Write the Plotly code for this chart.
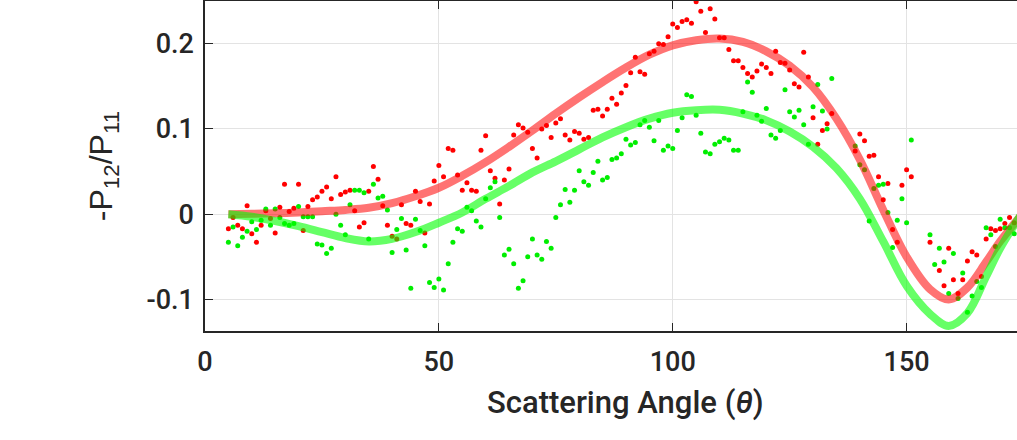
import plotly.graph_objects as go

# Measured polarization ratio -P12/P11 versus scattering angle (two samples)
red_angle = list(range(5, 135)) + list(range(139, 152)) + [155] + list(range(157, 174))
red_value = [
    -0.017, -0.004, -0.013, -0.017, 0.010, -0.023, -0.033, -0.013, 0.004, -0.005,
    -0.022, 0.008, 0.035, 0.003, 0.007, 0.035, -0.019, 0.009, 0.017, 0.020,
    0.027, 0.032, 0.018, 0.044, 0.023, 0.026, 0.028, 0.004, -0.015, -0.010,
    0.027, 0.056, 0.041, 0.010, -0.013, -0.026, -0.029, 0.011, -0.011, -0.013,
    0.027, 0.015, -0.022, 0.012, 0.039, 0.057, 0.044, 0.077, 0.075, 0.046,
    0.028, 0.037, 0.028, 0.027, 0.075, 0.092, 0.051, 0.042, 0.012, 0.040,
    0.053, 0.093, 0.105, 0.101, 0.096, 0.077, 0.066, 0.100, 0.104, 0.090,
    0.107, 0.112, 0.093, 0.087, 0.097, 0.095, 0.088, 0.090, 0.122, 0.123,
    0.115, 0.123, 0.136, 0.129, 0.142, 0.151, 0.166, 0.184, 0.167, 0.164,
    0.188, 0.191, 0.200, 0.199, 0.208, 0.223, 0.219, 0.226, 0.228, 0.224,
    0.249, 0.238, 0.213, 0.241, 0.229, 0.207, 0.207, 0.193, 0.180, 0.180,
    0.172, 0.165, 0.161, 0.168, 0.176, 0.172, 0.165, 0.191, 0.178, 0.177,
    0.169, 0.153, 0.149, 0.190, 0.161, 0.113, 0.082, 0.098, 0.106, 0.118,
    0.074, 0.094, 0.086, 0.068, 0.069, 0.044, 0.017, 0.036, -0.018, -0.033,
    0.034, 0.052, 0.044,
    -0.033,
    -0.066, -0.084, -0.040, -0.077, -0.093, -0.077, -0.055, -0.044, -0.048, -0.073,
    -0.029, -0.017, -0.019, -0.017, -0.011, -0.004, -0.010,
]

green_angle = list(range(5, 135)) + list(range(139, 152)) + list(range(155, 174))
green_value = [
    -0.033, -0.015, -0.037, -0.027, -0.020, -0.009, -0.018, -0.007, 0.006, -0.013,
    0.006, -0.004, -0.011, -0.013, -0.011, 0.009, -0.003, -0.003, -0.003, -0.035,
    -0.036, -0.046, -0.040, 0.000, -0.013, -0.024, 0.011, 0.028, 0.028, 0.025,
    -0.029, 0.035, 0.019, 0.021, 0.005, -0.045, -0.018, -0.005, -0.042, -0.087,
    -0.006, -0.019, -0.037, -0.080, -0.086, -0.076, -0.089, -0.058, -0.033, -0.017,
    -0.020, 0.008, 0.004, -0.008, -0.015, 0.018, 0.031, 0.038, -0.004, -0.048,
    -0.041, -0.058, -0.087, -0.078, -0.050, -0.029, -0.048, -0.053, -0.032, -0.040,
    -0.004, 0.011, 0.029, 0.014, 0.028, 0.051, 0.038, 0.034, 0.049, 0.062,
    0.040, 0.043, 0.064, 0.066, 0.071, 0.088, 0.081, 0.084, 0.105, 0.110,
    0.102, 0.086, 0.110, 0.075, 0.080, 0.077, 0.098, 0.113, 0.140, 0.138,
    0.116, 0.095, 0.073, 0.071, 0.082, 0.085, 0.089, 0.087, 0.075, 0.075,
    0.120, 0.155, 0.143, 0.116, 0.109, 0.124, 0.093, 0.089, 0.098, 0.146,
    0.120, 0.114, 0.122, 0.105, 0.082, 0.126, 0.152, 0.121, 0.100, 0.159,
    0.080, 0.058, 0.052, -0.008, 0.030, 0.034, 0.035, 0.002, -0.039, -0.007,
    0.018, -0.010, 0.087,
    -0.024, -0.059, -0.040, -0.056, -0.093, -0.046, -0.099, -0.069, -0.115, -0.096,
    -0.079, -0.086, -0.016, -0.024, -0.038, -0.006, -0.016, -0.016, -0.023,
]

# Smooth model curves
fit_angle = [5, 10, 15, 20, 25, 30, 35, 40, 45, 50, 55, 60, 65, 70, 75, 80, 85, 90,
             95, 100, 105, 110, 115, 120, 125, 130, 135, 140, 145, 150, 155, 159,
             163, 167, 170, 175]
red_fit_value = [0.000, 0.0005, 0.001, 0.002, 0.0035, 0.005, 0.0075, 0.013, 0.021, 0.031,
                 0.045, 0.061, 0.079, 0.098, 0.118, 0.137, 0.155, 0.172, 0.187, 0.198,
                 0.204, 0.206, 0.202, 0.191, 0.174, 0.149, 0.112, 0.064, 0.005, -0.050,
                 -0.088, -0.100, -0.086, -0.056, -0.032, 0.002]
green_fit_value = [0.000, -0.003, -0.008, -0.014, -0.021, -0.028, -0.032, -0.029, -0.021,
                   -0.010, 0.002, 0.018, 0.033, 0.049, 0.062, 0.076, 0.090, 0.102, 0.112,
                   0.119, 0.122, 0.1225, 0.118, 0.110, 0.097, 0.079, 0.054, 0.018, -0.032,
                   -0.084, -0.117, -0.131, -0.116, -0.073, -0.040, 0.004]

x_ticks = [0, 50, 100, 150]
y_ticks = [-0.1, 0, 0.1, 0.2]
y_tick_text = ["-0.1", "0", "0.1", "0.2"]

axis_color = "#262626"
grid_color = "#e3e3e3"
tick_font = dict(family="Roboto", size=27, color=axis_color, weight=500)

fig = go.Figure()

fig.add_trace(go.Scatter(
    x=red_angle, y=red_value, mode="markers",
    marker=dict(color="#ff0000", size=5, line=dict(width=0)),
    showlegend=False,
))
fig.add_trace(go.Scatter(
    x=green_angle, y=green_value, mode="markers",
    marker=dict(color="#00ee00", size=5, line=dict(width=0)),
    showlegend=False,
))
fig.add_trace(go.Scatter(
    x=fit_angle, y=red_fit_value, mode="lines",
    line=dict(color="rgba(255,0,0,0.55)", width=8, shape="spline", smoothing=1.0),
    showlegend=False,
))
fig.add_trace(go.Scatter(
    x=fit_angle, y=green_fit_value, mode="lines",
    line=dict(color="rgba(0,255,0,0.6)", width=8, shape="spline", smoothing=1.0),
    showlegend=False,
))

fig.update_layout(
    width=1017, height=440,
    margin=dict(l=205, r=0, t=1, b=109),
    paper_bgcolor="white", plot_bgcolor="white",
)

# The angle axis continues past the right edge, so its label sits right of the visible centre
fig.add_annotation(
    text="Scattering Angle (<i>θ</i>)",
    xref="paper", yref="paper", x=0.518, y=-0.218,
    xanchor="center", yanchor="middle", showarrow=False,
    font=dict(family="Roboto", size=31, color=axis_color, weight=500),
)

fig.update_xaxes(
    range=[0, 173.6],
    tickmode="array", tickvals=x_ticks,
    ticks="inside", ticklen=8, tickwidth=1.2, tickcolor=axis_color,
    showline=True, linecolor=axis_color, linewidth=1.5, mirror="ticks",
    showgrid=True, gridcolor=grid_color, gridwidth=1, zeroline=False,
    tickfont=tick_font, ticklabelstandoff=6,
)
fig.update_yaxes(
    range=[-0.137, 0.25],
    tickmode="array", tickvals=y_ticks, ticktext=y_tick_text,
    ticks="inside", ticklen=8, tickwidth=1.2, tickcolor=axis_color,
    showline=True, linecolor=axis_color, linewidth=1.5, mirror=False,
    showgrid=True, gridcolor=grid_color, gridwidth=1, zeroline=False,
    tickfont=tick_font, ticklabelstandoff=4,
    title=dict(text="-P<sub>12</sub>/P<sub>11</sub>",
               font=dict(family="Liberation Sans", size=32, color=axis_color),
               standoff=24),
)

fig.write_html("out.html")
